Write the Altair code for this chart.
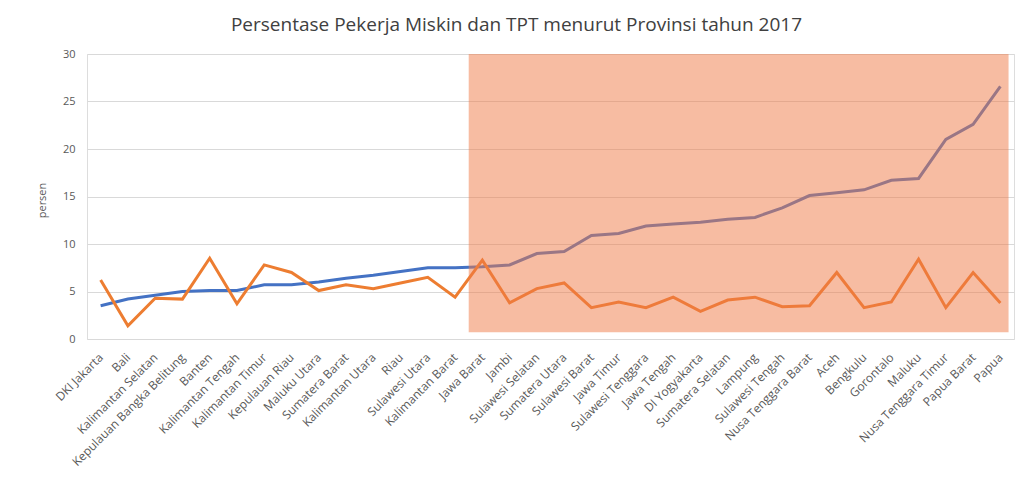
import json
import altair as alt
import pandas as pd

provinces = [
    "DKI Jakarta", "Bali", "Kalimantan Selatan", "Kepulauan Bangka Belitung", "Banten",
    "Kalimantan Tengah", "Kalimantan Timur", "Kepulauan Riau", "Maluku Utara", "Sumatera Barat",
    "Kalimantan Utara", "Riau", "Sulawesi Utara", "Kalimantan Barat", "Jawa Barat",
    "Jambi", "Sulawesi Selatan", "Sumatera Utara", "Sulawesi Barat", "Jawa Timur",
    "Sulawesi Tenggara", "Jawa Tengah", "DI Yogyakarta", "Sumatera Selatan", "Lampung",
    "Sulawesi Tengah", "Nusa Tenggara Barat", "Aceh", "Bengkulu", "Gorontalo",
    "Maluku", "Nusa Tenggara Timur", "Papua Barat", "Papua",
]

pekerja_miskin = [
    3.5, 4.2, 4.6, 5.0, 5.1, 5.1, 5.7, 5.7, 6.0, 6.4,
    6.7, 7.1, 7.5, 7.5, 7.6, 7.8, 9.0, 9.2, 10.9, 11.1,
    11.9, 12.1, 12.3, 12.6, 12.8, 13.8, 15.1, 15.4, 15.7, 16.7,
    16.9, 21.0, 22.6, 26.6,
]

tpt = [
    6.2, 1.4, 4.3, 4.2, 8.5, 3.7, 7.8, 7.0, 5.1, 5.7,
    5.3, 5.9, 6.5, 4.4, 8.3, 3.8, 5.3, 5.9, 3.3, 3.9,
    3.3, 4.4, 2.9, 4.1, 4.4, 3.4, 3.5, 7.0, 3.3, 3.9,
    8.4, 3.3, 7.0, 3.8,
]

series_names = ["Pekerja Miskin", "TPT"]
series_colors = ["#4472C4", "#ED7D31"]

highlight_start = "Jawa Barat"
highlight_end = "Papua"
highlight_low = 0.7
highlight_high = 30

rows = []
for i, p in enumerate(provinces):
    rows.append({"idx": i, "provinsi": p, "nilai": pekerja_miskin[i], "seri": series_names[0]})
for i, p in enumerate(provinces):
    rows.append({"idx": i, "provinsi": p, "nilai": tpt[i], "seri": series_names[1]})
df = pd.DataFrame(rows)

hl = pd.DataFrame([{
    "x1": provinces.index(highlight_start) - 0.5,
    "x2": provinces.index(highlight_end) + 0.3,
    "y1": highlight_low,
    "y2": highlight_high,
}])

label_expr = json.dumps(provinces) + "[datum.value]"
n = len(provinces)

x_scale = alt.Scale(domain=[-0.5, n - 0.5], nice=False, zero=False)
y_scale = alt.Scale(domain=[0, 30], nice=False)

x_axis = alt.Axis(
    values=list(range(n)), labelExpr=label_expr, labelAngle=-45, labelAlign="right",
    labelBaseline="middle", labelPadding=16, ticks=False, domain=False, grid=False,
    labelFont="Open Sans", labelFontSize=12, labelColor="#595959", title=None,
    labelOverlap=False, labelBound=False, labelFlush=False,
)
y_axis = alt.Axis(
    values=[0, 5, 10, 15, 20, 25, 30], ticks=False, domain=False,
    labelPadding=12, labelFont="Open Sans", labelFontSize=11, labelColor="#595959",
    title="persen", titleFont="Open Sans", titleFontSize=11, titleFontWeight="normal",
    titleColor="#595959", titleX=-40, titleY=146, gridColor="#d9d9d9", gridWidth=1,
    labelOverlap=False,
)

lines = alt.Chart(df).mark_line(strokeWidth=3).encode(
    x=alt.X("idx:Q", scale=x_scale, axis=x_axis),
    y=alt.Y("nilai:Q", scale=y_scale, axis=y_axis),
    color=alt.Color("seri:N", scale=alt.Scale(domain=series_names, range=series_colors), legend=None),
    order=alt.Order("idx:Q"),
)

rect = alt.Chart(hl).mark_rect(color="#EF7A45", opacity=0.5).encode(
    x=alt.X("x1:Q", scale=x_scale, axis=x_axis),
    x2="x2:Q",
    y=alt.Y("y1:Q", scale=y_scale, axis=y_axis),
    y2="y2:Q",
)

chart = alt.layer(lines, rect).properties(
    width=927,
    height=285,
    autosize=alt.AutoSizeParams(type="none"),
    padding={"left": 79, "top": 46, "right": 4, "bottom": 131},
    title=alt.TitleParams(
        "Persentase Pekerja Miskin dan TPT menurut Provinsi tahun 2017",
        font="Open Sans", fontSize=19, fontWeight="normal", color="#404040",
        anchor="middle", frame="group", baseline="bottom", offset=-6, dx=-34,
    ),
).configure_view(stroke=None).configure(background="white")

chart.save("out.html", embed_options={"renderer": "svg", "actions": False})
